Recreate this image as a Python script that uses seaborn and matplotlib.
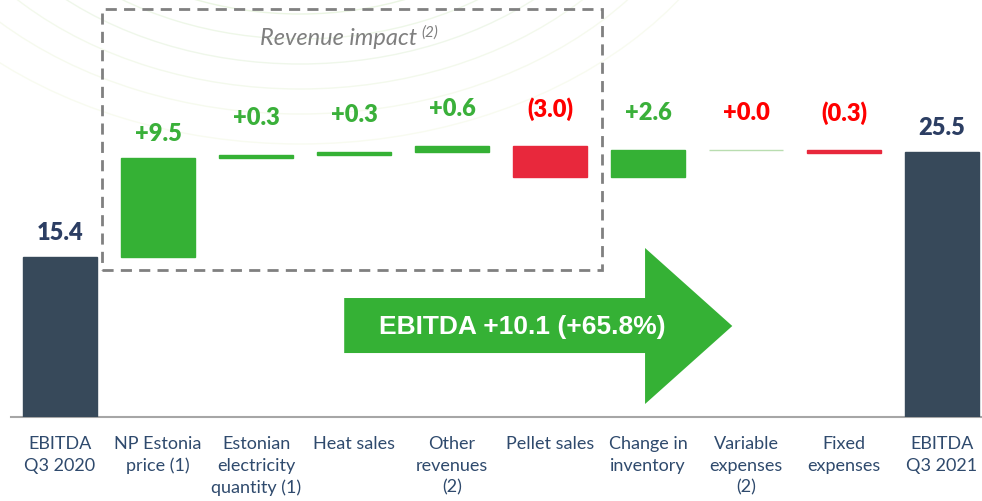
import numpy as np
import matplotlib
matplotlib.use("Agg")
import matplotlib.pyplot as plt
import seaborn as sns
from matplotlib.patches import Polygon, Rectangle, Arc

# data
categories = ["EBITDA\nQ3 2020", "NP Estonia\nprice (1)", "Estonian\nelectricity\nquantity (1)",
              "Heat sales", "Other\nrevenues\n(2)", "Pellet sales", "Change in\ninventory",
              "Variable\nexpenses\n(2)", "Fixed\nexpenses", "EBITDA\nQ3 2021"]
start_total = 15.4
deltas = [9.5, 0.3, 0.3, 0.6, -3.0, 2.6, 0.0, -0.3]
end_total = 25.5
labels = ["15.4", "+9.5", "+0.3", "+0.3", "+0.6", "(3.0)", "+2.6", "+0.0", "(0.3)", "25.5"]
summary_text = "EBITDA +10.1 (+65.8%)"

# waterfall geometry from the values
heights, bottoms = [start_total], [0.0]
level = start_total
for d in deltas:
    bottoms.append(level if d >= 0 else level + d)
    heights.append(abs(d))
    level += d
heights.append(end_total)
bottoms.append(0.0)
tops = [b + h for b, h in zip(bottoms, heights)]

navy = "#2C3E63"
dark = "#37495A"
green = "#35B135"
red = "#E8283C"
bar_colors = [dark, green, green, green, green, red, green, "#B9DDB0", red, dark]
label_colors = [navy, "#3AB03A", "#3AB03A", "#3AB03A", "#3AB03A", "#FF0000", "#3AB03A",
                "#FF0000", "#FF0000", navy]

sns.set_style("white")
plt.rcParams["font.family"] = ["Lato", "DejaVu Sans"]

fig = plt.figure(figsize=(9.82, 5.02), dpi=100)
ax = fig.add_axes([11 / 982, 1 - 418 / 502, 980 / 982, 418 / 502])
ax.patch.set_alpha(0)

# faint decorative arcs in the background
for r, c in zip([215, 240, 265, 290, 315, 345],
                ["#EAF5E2", "#EEF7E8", "#EFF7EA", "#F3F9EC", "#F6FAEE", "#F8FBF0"]):
    fig.patches.append(Arc((300, 502 + 200), 2 * r * 1.35, 2 * r, transform=None,
                           color=c, lw=1.0, zorder=-5))

sns.barplot(x=categories, y=heights, bottom=bottoms, width=0.76, color=dark,
            errorbar=None, ax=ax, zorder=3)
for patch, c in zip(ax.patches, bar_colors):
    patch.set_facecolor(c)
    patch.set_edgecolor(c)
    patch.set_linewidth(1.0)

ax.set_xlim(-0.5, 9.5)
ax.set_ylim(0, 418 / 10.4)

for i, (t, h, lab, lc) in enumerate(zip(tops, heights, labels, label_colors)):
    off = 18 if h > 5 else 27
    ax.annotate(lab, (i, t), xytext=(0, off), textcoords="offset points",
                ha="center", va="center", fontsize=17, fontweight="heavy", color=lc, zorder=5)

# axis styling
for s in ["top", "right", "left"]:
    ax.spines[s].set_visible(False)
ax.spines["bottom"].set_color("#A6A6A6")
ax.spines["bottom"].set_linewidth(1.5)
ax.set_yticks([])
ax.set_xlabel("")
ax.set_xticks(np.arange(-0.5, 10, 1), minor=True)
ax.tick_params(axis="x", which="minor", length=5, width=1.2, color="#A6A6A6", direction="out")
ax.tick_params(axis="x", which="major", length=0, pad=13)
for t in ax.get_xticklabels():
    t.set_fontsize(13)
    t.set_color("#2F4A6D")
    t.set_verticalalignment("top")
    t.set_linespacing(1.42)

# dashed "revenue impact" box
ax.add_patch(Rectangle((0.43, 14.1), 5.10, 25.1, fill=False, ls=(0, (4, 2.6)),
                       lw=2, ec="#808080", zorder=2, clip_on=False))
rev = ax.text(2.84, 36.5, "Revenue impact", ha="center", va="center", fontsize=17,
              style="italic", color="#7F7F7F")
ax.annotate("(2)", xy=(1, 1), xycoords=rev, xytext=(3, 2), textcoords="offset points",
            ha="left", va="top", fontsize=11, style="italic", color="#7F7F7F")

# big summary arrow
arrow = Polygon([(2.90, 6.15), (2.90, 11.44), (5.97, 11.44), (5.97, 16.25),
                 (6.86, 8.75), (5.97, 1.25), (5.97, 6.15)],
                closed=True, fc=green, ec="none", zorder=4)
ax.add_patch(arrow)
ax.text(4.72, 8.75, summary_text, ha="center", va="center", fontsize=19,
        fontweight="bold", color="white", family=["Liberation Sans", "DejaVu Sans"], zorder=5)

fig.savefig("out.png", dpi=100)
